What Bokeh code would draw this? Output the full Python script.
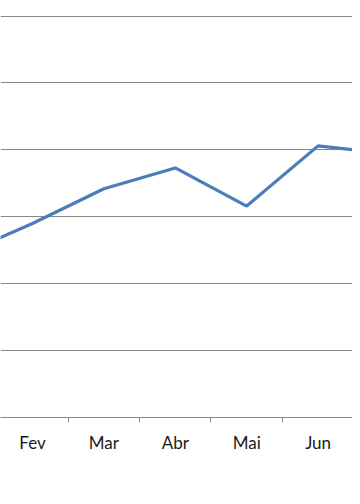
from bokeh.plotting import figure
from bokeh.models import FixedTicker, Range1d
from bokeh.embed import file_html
from bokeh.resources import INLINE

months = ["Jan", "Fev", "Mar", "Abr", "Mai", "Jun", "Jul"]
positions = [1, 2, 3, 4, 5, 6, 7]
values = [24.3, 29.0, 34.2, 37.3, 31.6, 40.6, 39.4]
boundaries = [0.5, 1.5, 2.5, 3.5, 4.5, 5.5, 6.5, 7.5]
grid_values = [0, 10, 20, 30, 40, 50, 60]

p = figure(width=352, height=488, output_backend="svg", toolbar_location=None,
           x_range=Range1d(1.552, 6.482), y_range=Range1d(0, 62.33),
           min_border_left=0, min_border_right=0, min_border_top=0, min_border_bottom=71)
p.outline_line_color = None
p.yaxis.visible = False
p.xgrid.visible = False
p.ygrid.ticker = FixedTicker(ticks=grid_values[1:])
p.ygrid.grid_line_color = "#868686"
p.ygrid.grid_line_width = 1

p.xaxis.ticker = FixedTicker(ticks=positions, minor_ticks=boundaries)
p.xaxis.major_label_overrides = {pos: m for pos, m in zip(positions, months)}
p.xaxis.axis_line_color = "#868686"
p.xaxis.major_tick_line_color = None
p.xaxis.major_tick_out = 5
p.xaxis.major_tick_in = 0
p.xaxis.minor_tick_line_color = "#868686"
p.xaxis.minor_tick_out = 5
p.xaxis.minor_tick_in = 0
p.xaxis.major_label_standoff = 9
p.xaxis.major_label_text_font = "Lato"
p.xaxis.major_label_text_font_size = "17px"
p.xaxis.major_label_text_color = "#1a1a1a"

p.line(positions, values, line_color="#4a7ebb", line_width=3.2)

open("out.html", "w").write(file_html(p, INLINE))
